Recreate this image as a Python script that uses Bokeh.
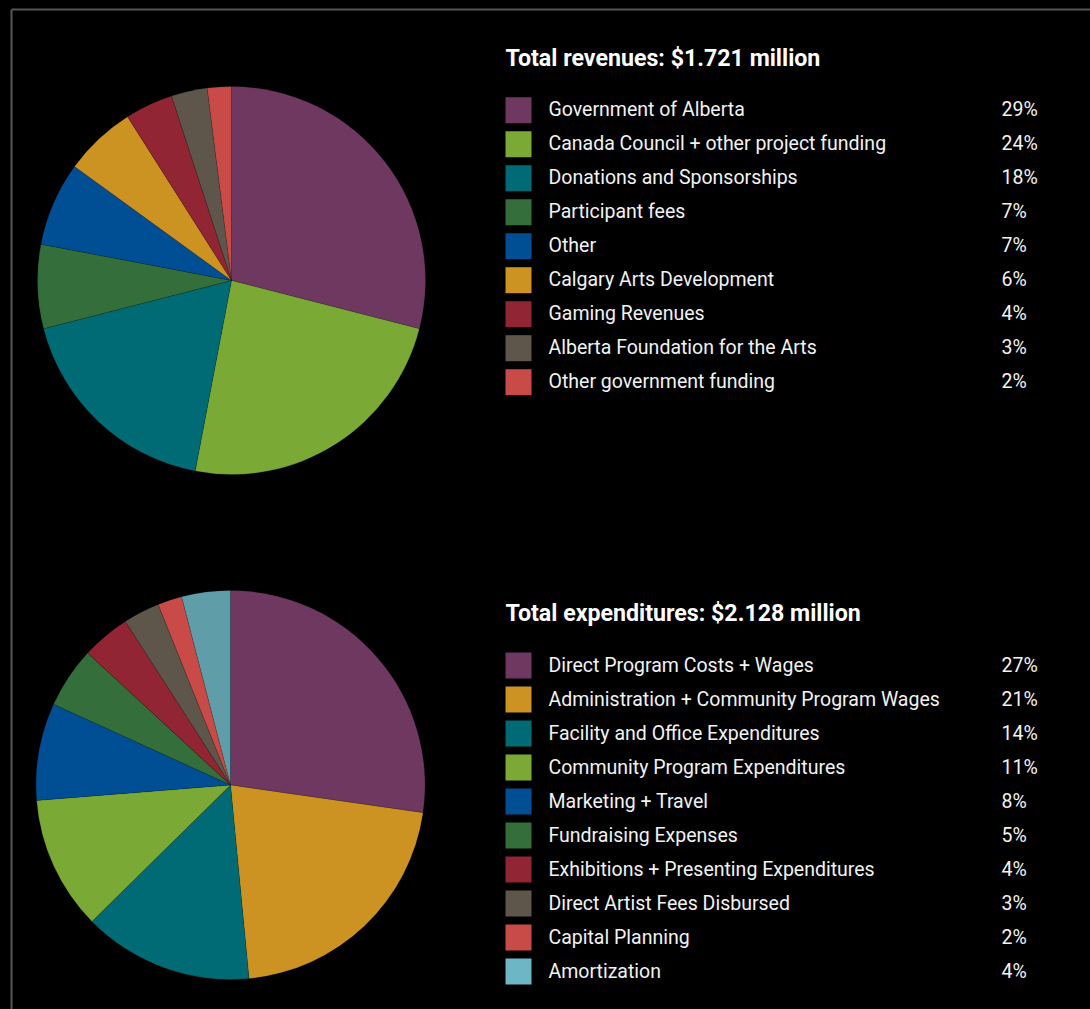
import math
from bokeh.plotting import figure
from bokeh.models import Range1d, ColumnDataSource
from bokeh.core.properties import value
from bokeh.embed import file_html
from bokeh.resources import INLINE

# ---------------- data ----------------
rev_title = "Total revenues: $1.721 million"
rev_labels = ["Government of Alberta", "Canada Council + other project funding",
              "Donations and Sponsorships", "Participant fees", "Other",
              "Calgary Arts Development", "Gaming Revenues",
              "Alberta Foundation for the Arts", "Other government funding"]
rev_values = [29, 24, 18, 7, 7, 6, 4, 3, 2]

exp_title = "Total expenditures: $2.128 million"
exp_labels = ["Direct Program Costs + Wages", "Administration + Community Program Wages",
              "Facility and Office Expenditures", "Community Program Expenditures",
              "Marketing + Travel", "Fundraising Expenses",
              "Exhibitions + Presenting Expenditures", "Direct Artist Fees Disbursed",
              "Capital Planning", "Amortization"]
exp_values = [27, 21, 14, 11, 8, 5, 4, 3, 2, 4]

# ---------------- styles ----------------
PURPLE, LIME, TEAL, DGREEN = "#6e3860", "#7aa936", "#006b74", "#336e3b"
BLUE, GOLD, RED, BROWN, CORAL = "#004f95", "#cc9322", "#912534", "#5e564b", "#c84b48"
rev_colors = [PURPLE, LIME, TEAL, DGREEN, BLUE, GOLD, RED, BROWN, CORAL]
exp_colors = [PURPLE, GOLD, TEAL, LIME, BLUE, DGREEN, RED, BROWN, CORAL, "#6db6c5"]
exp_wedge_colors = exp_colors[:-1] + ["#5f9ea9"]

W, H = 1090, 1009
FONT = "Roboto"

p = figure(width=W, height=H, output_backend="svg", toolbar_location=None,
           x_range=Range1d(0, W), y_range=Range1d(0, H),
           x_axis_location=None, y_axis_location=None, min_border=0)
p.grid.visible = False
p.background_fill_color = "#000000"
p.border_fill_color = "#000000"
p.outline_line_color = None


def Y(sy):
    return H - sy


# frame border
p.segment(x0=[11, 11], y0=[Y(9), Y(9)], x1=[W, 11], y1=[Y(9), Y(H)],
          line_color="#565656", line_width=2)


def pie(cx, cy, r, vals, colors):
    tot = float(sum(vals))
    starts, ends = [], []
    c = 0.0
    for v in vals:
        a0 = c / tot
        c += v
        a1 = c / tot
        starts.append(math.pi / 2 - 2 * math.pi * a1)
        ends.append(math.pi / 2 - 2 * math.pi * a0)
    src = ColumnDataSource(dict(x=[cx] * len(vals), y=[Y(cy)] * len(vals),
                                s=starts, e=ends, c=colors))
    p.wedge(x="x", y="y", radius=r, start_angle="s", end_angle="e",
            fill_color="c", line_color="#000000", line_width=0.5, line_alpha=0.25,
            source=src)


def legend(title, title_y, first_row, labels, vals, colors):
    p.text(x=[505], y=[Y(title_y)], text=[title], text_font=value(FONT),
           text_font_size="23.2px", text_font_style="bold", text_color="#ffffff",
           text_baseline="alphabetic", text_align="left")
    rows = [first_row + 34 * i for i in range(len(labels))]
    p.rect(x=[518] * len(rows), y=[Y(r) for r in rows], width=26, height=26,
           fill_color=colors, line_color=None)
    p.text(x=[548] * len(rows), y=[Y(r - 0.5) for r in rows], text=labels,
           text_font=value(FONT), text_font_size="19.5px", text_color="#f2f2f2",
           text_baseline="alphabetic", text_align="left")
    p.text(x=[1001] * len(rows), y=[Y(r - 0.5) for r in rows],
           text=[f"{v}%" for v in vals],
           text_font=value(FONT), text_font_size="19.5px", text_color="#f2f2f2",
           text_baseline="alphabetic", text_align="left")


pie(231, 280, 194, rev_values, rev_colors)
pie(230, 784.5, 194.5, exp_values, exp_wedge_colors)
legend(rev_title, 57.5, 109.7, rev_labels, rev_values, rev_colors)
legend(exp_title, 612.2, 665, exp_labels, exp_values, exp_colors)

template = """{% block postamble %}<style>html, body { background-color: #000000; overflow: hidden; }</style>{% endblock %}"""

open("out.html", "w").write(file_html(p, INLINE, template=template))
